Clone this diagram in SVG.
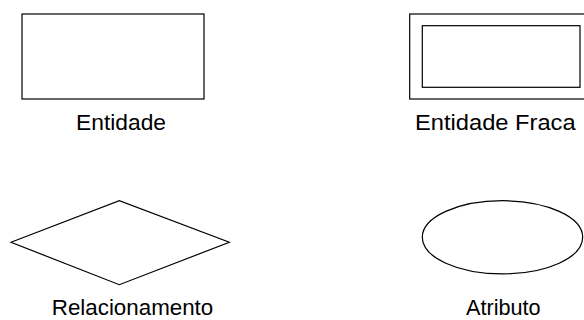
<svg xmlns="http://www.w3.org/2000/svg" width="584" height="320" viewBox="0 0 584 320">
<style>
.s{fill:#fff;stroke:#000;stroke-width:1.2}
.t{font-family:"Liberation Sans",Arial,sans-serif;font-size:21.5px;fill:#000;text-anchor:middle}
</style>
<rect width="584" height="320" fill="#fff"/>
<g id="entidade">
<rect class="s" x="22" y="14" width="182" height="85"/>
<text class="t" x="121" y="130" textLength="90" lengthAdjust="spacingAndGlyphs">Entidade</text>
</g>
<g id="entidade-fraca">
<rect class="s" x="409.7" y="14" width="180" height="85"/>
<rect class="s" x="422.3" y="25.7" width="157.7" height="61.6"/>
<text class="t" x="495.3" y="130" textLength="160.5" lengthAdjust="spacingAndGlyphs">Entidade Fraca</text>
</g>
<g id="relacionamento">
<polygon class="s" points="11,242.3 119.3,200.7 229.3,242.3 119.3,284.7"/>
<text class="t" x="132.5" y="315" textLength="161.5" lengthAdjust="spacingAndGlyphs">Relacionamento</text>
</g>
<g id="atributo">
<ellipse class="s" cx="502.5" cy="237.3" rx="80.2" ry="36.6"/>
<text class="t" x="503.3" y="315" textLength="74.7" lengthAdjust="spacingAndGlyphs">Atributo</text>
</g>
<g id="connectors"></g>
</svg>
